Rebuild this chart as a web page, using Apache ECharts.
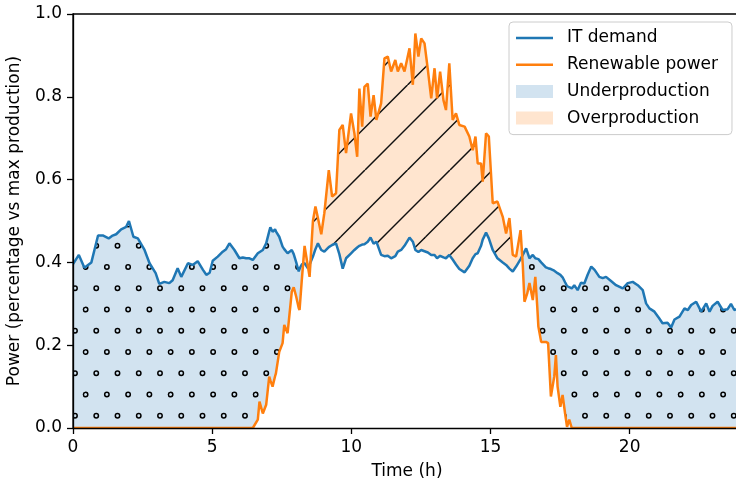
<!DOCTYPE html>
<html><head><meta charset="utf-8">
<script src="https://cdn.jsdelivr.net/npm/echarts@6/dist/echarts.min.js"></script>
<style>html,body{margin:0;padding:0;background:#fff}#c{width:736px;height:481px}</style>
</head><body><div id="c"></div>
<script>
// ---- data (hours of the day, fraction of max production) ----
const hours = [
  0, 0.21, 0.41, 0.66, 0.90, 1.07, 1.28, 1.40, 1.55, 1.73,
  1.91, 2.01, 2.17, 2.33, 2.57, 2.75, 2.97, 3.10, 3.28, 3.46,
  3.58, 3.76, 3.89, 4.13, 4.30, 4.48, 4.67, 4.79, 4.91, 5.02,
  5.20, 5.38, 5.50, 5.62, 5.80, 5.98, 6.10, 6.22, 6.34, 6.46,
  6.52, 6.64, 6.70, 6.82, 6.94, 7.05, 7.09, 7.17, 7.26, 7.29,
  7.41, 7.53, 7.59, 7.71, 7.86, 7.93, 8.02, 8.11, 8.14, 8.22,
  8.32, 8.44, 8.50, 8.62, 8.71, 8.80, 8.92, 9.03, 9.19, 9.31,
  9.45, 9.57, 9.69, 9.81, 9.99, 10.11, 10.21, 10.29, 10.39, 10.47,
  10.59, 10.69, 10.80, 10.90, 11.07, 11.19, 11.31, 11.43, 11.58, 11.67,
  11.79, 11.91, 12.09, 12.21, 12.30, 12.41, 12.51, 12.63, 12.75, 12.87,
  12.99, 13.08, 13.19, 13.31, 13.40, 13.52, 13.64, 13.76, 13.88, 14.07,
  14.24, 14.36, 14.46, 14.54, 14.66, 14.72, 14.84, 14.94, 15.08, 15.25,
  15.44, 15.56, 15.68, 15.80, 15.92, 16.08, 16.16, 16.22, 16.28, 16.32,
  16.40, 16.52, 16.61, 16.68, 16.72, 16.82, 16.99, 17.07, 17.17, 17.29,
  17.35, 17.41, 17.51, 17.59, 17.68, 17.75, 17.83, 17.92,
  18.01, 18.13, 18.25, 18.37, 18.49, 18.62, 18.74, 18.91, 19.03, 19.15,
  19.33, 19.51, 19.75, 19.93, 20.11, 20.29, 20.47, 20.59, 20.71, 20.89,
  21.06, 21.18, 21.36, 21.49, 21.61, 21.79, 21.97, 22.09, 22.21, 22.39,
  22.57, 22.75, 22.87, 22.98, 23.16, 23.34, 23.52, 23.64, 23.76, 24.00
];
const itDemand = [
  0.396, 0.418, 0.387, 0.400, 0.465, 0.465, 0.458, 0.464, 0.468, 0.480,
  0.486, 0.500, 0.462, 0.458, 0.430, 0.398, 0.374, 0.348, 0.353, 0.350,
  0.357, 0.386, 0.365, 0.398, 0.394, 0.403, 0.382, 0.370, 0.375, 0.404,
  0.414, 0.426, 0.432, 0.446, 0.430, 0.410, 0.412, 0.410, 0.410, 0.406,
  0.410, 0.422, 0.422, 0.430, 0.446, 0.475, 0.485, 0.474, 0.480, 0.475,
  0.462, 0.438, 0.432, 0.422, 0.430, 0.420, 0.400, 0.378, 0.385, 0.395,
  0.398, 0.386, 0.395, 0.414, 0.432, 0.446, 0.430, 0.426, 0.437, 0.442,
  0.446, 0.420, 0.385, 0.410, 0.422, 0.430, 0.436, 0.440, 0.443, 0.444,
  0.450, 0.460, 0.445, 0.450, 0.418, 0.415, 0.416, 0.410, 0.415, 0.426,
  0.430, 0.440, 0.460, 0.450, 0.430, 0.425, 0.430, 0.427, 0.424, 0.418,
  0.418, 0.410, 0.416, 0.412, 0.410, 0.418, 0.407, 0.395, 0.384, 0.376,
  0.392, 0.410, 0.420, 0.422, 0.440, 0.455, 0.472, 0.458, 0.430, 0.410,
  0.400, 0.394, 0.385, 0.378, 0.390, 0.408, 0.418, 0.426, 0.434, 0.426,
  0.410, 0.418, 0.410, 0.407, 0.408, 0.400, 0.388, 0.386, 0.384, 0.380,
  0.377, 0.374, 0.370, 0.364, 0.352, 0.343, 0.340, 0.337,
  0.345, 0.333, 0.351, 0.349, 0.370, 0.390, 0.382, 0.365, 0.362, 0.365,
  0.355, 0.345, 0.337, 0.350, 0.353, 0.345, 0.333, 0.301, 0.289, 0.281,
  0.265, 0.253, 0.254, 0.243, 0.262, 0.269, 0.289, 0.285, 0.297, 0.305,
  0.281, 0.301, 0.281, 0.295, 0.305, 0.285, 0.287, 0.300, 0.285, 0.290
];
const renewable = [
  0, 0, 0, 0, 0, 0, 0, 0, 0, 0,
  0, 0, 0, 0, 0, 0, 0, 0, 0, 0,
  0, 0, 0, 0, 0, 0, 0, 0, 0, 0,
  0, 0, 0, 0, 0, 0, 0, 0, 0, 0,
  0, 0.020, 0.064, 0.035, 0.056, 0.124, 0.115, 0.100, 0.125, 0.132,
  0.184, 0.205, 0.249, 0.229, 0.329, 0.340, 0.317, 0.290, 0.285, 0.357,
  0.440, 0.390, 0.365, 0.500, 0.535, 0.507, 0.468, 0.519, 0.623, 0.559,
  0.567, 0.720, 0.732, 0.664, 0.760, 0.712, 0.655, 0.820, 0.728, 0.824,
  0.832, 0.752, 0.804, 0.744, 0.784, 0.893, 0.897, 0.861, 0.889, 0.861,
  0.881, 0.861, 0.917, 0.829, 0.953, 0.897, 0.941, 0.929, 0.865, 0.796,
  0.869, 0.796, 0.861, 0.792, 0.768, 0.881, 0.744, 0.760, 0.732, 0.728,
  0.704, 0.671, 0.704, 0.639, 0.639, 0.595, 0.712, 0.704, 0.543, 0.547,
  0.510, 0.470, 0.507, 0.418, 0.414, 0.478, 0.394, 0.305, 0.317, 0.325,
  0.350, 0.309, 0.365, 0.293, 0.245, 0.208, 0.208, 0.205, 0.076, 0.124,
  0.176, 0.100, 0.051, 0.080, 0.035, 0.003, 0.020, 0,
  0, 0, 0, 0, 0, 0, 0, 0, 0, 0,
  0, 0, 0, 0, 0, 0, 0, 0, 0, 0,
  0, 0, 0, 0, 0, 0, 0, 0, 0, 0,
  0, 0, 0, 0, 0, 0, 0, 0, 0, 0
];
const seriesNames = ['IT demand', 'Renewable power', 'Underproduction', 'Overproduction'];
const xLabel = 'Time (h)';
const yLabel = 'Power (percentage vs max production)';

if (hours.length !== itDemand.length || hours.length !== renewable.length) {
  console.error('length mismatch', hours.length, itDemand.length, renewable.length);
}

// ---- styling ----
const FONT = 'DejaVu Sans';
const BLUE = '#1f77b4';
const ORANGE = '#ff7f0e';
const UNDER_BG = '#d2e3f0';
const OVER_BG = '#ffe5cf';

function dotPattern() {
  const S = 85, c = document.createElement('canvas');
  c.width = S; c.height = S;
  const g = c.getContext('2d');
  g.fillStyle = UNDER_BG; g.fillRect(0, 0, S, S);
  g.strokeStyle = '#000'; g.lineWidth = 1.5;
  const step = S / 4;
  for (let j = 0; j < 4; j++) {
    const y = 12.05 + j * step;
    const xo = (j % 2 === 1) ? 11.25 : 0.625;
    for (let i = -1; i <= 4; i++) {
      g.beginPath(); g.arc(xo + i * step, y, 2.2, 0, Math.PI * 2); g.stroke();
    }
  }
  return c;
}
function hatchPattern() {
  const S = 85, c = document.createElement('canvas');
  c.width = S; c.height = S;
  const g = c.getContext('2d');
  g.fillStyle = OVER_BG; g.fillRect(0, 0, S, S);
  g.strokeStyle = '#111'; g.lineWidth = 1.5;
  for (let k = -2; k <= 6; k++) {
    const cc = 25 + k * 42.5;
    g.beginPath(); g.moveTo(cc, 0); g.lineTo(cc - S, S); g.stroke();
  }
  return c;
}

const pts = arr => hours.map((h, i) => [h, arr[i]]);
const upper = hours.map((h, i) => [h, Math.max(itDemand[i], renewable[i])]);
const lower = hours.map((h, i) => [h, Math.min(itDemand[i], renewable[i])]);

const axisFont = {fontSize: 17, color: '#000', fontFamily: FONT};
const chart = echarts.init(document.getElementById('c'), null, {renderer: 'canvas'});
chart.setOption({
  animation: false,
  grid: {left: 73, top: 14, width: 668, height: 414, outerBoundsMode: 'none', containLabel: false,
         show: true, borderColor: '#000', borderWidth: 1.3, backgroundColor: 'transparent'},
  xAxis: {
    type: 'value', min: 0, max: 24, interval: 5, z: 10,
    axisLine: {lineStyle: {color: '#000', width: 1.3}},
    axisTick: {length: 6, lineStyle: {color: '#000', width: 1.3}},
    axisLabel: Object.assign({margin: 11, showMaxLabel: false}, axisFont),
    splitLine: {show: false},
    name: xLabel, nameLocation: 'middle', nameGap: 35, nameTextStyle: axisFont
  },
  yAxis: {
    type: 'value', min: 0, max: 1, interval: 0.2, z: 10,
    axisLine: {show: true, lineStyle: {color: '#000', width: 1.3}},
    axisTick: {show: true, length: 6, lineStyle: {color: '#000', width: 1.3}},
    axisLabel: Object.assign({margin: 11, formatter: v => v.toFixed(1)}, axisFont),
    splitLine: {show: false},
    name: yLabel, nameLocation: 'middle', nameGap: 50, nameRotate: 90, nameTextStyle: axisFont
  },
  legend: {
    orient: 'vertical', left: 509, top: 22, selectedMode: false,
    padding: [7.5, 14, 8, 7],
    itemWidth: 37, itemHeight: 13, itemGap: 9.7,
    backgroundColor: 'rgba(255,255,255,0.8)', borderColor: '#cccccc', borderWidth: 1, borderRadius: 4,
    textStyle: {fontSize: 17, color: '#000', fontFamily: FONT, lineHeight: 17, padding: [0, 0, 0, 9]},
    itemStyle: {borderWidth: 0},
    data: [
      {name: seriesNames[0], icon: 'path://M0,0H37V2.5H0Z', itemStyle: {color: BLUE}},
      {name: seriesNames[1], icon: 'path://M0,0H37V2.5H0Z', itemStyle: {color: ORANGE}},
      {name: seriesNames[2], icon: 'rect', itemStyle: {color: UNDER_BG}},
      {name: seriesNames[3], icon: 'rect', itemStyle: {color: OVER_BG}}
    ]
  },
  series: [
    {name: seriesNames[3], type: 'line', data: upper, symbol: 'none', silent: true, z: 1,
     itemStyle: {color: OVER_BG},
     lineStyle: {width: 0, opacity: 0},
     areaStyle: {color: {image: hatchPattern(), repeat: 'repeat'}, opacity: 1}},
    {name: seriesNames[2], type: 'line', data: pts(itDemand), symbol: 'none', silent: true, z: 2,
     itemStyle: {color: UNDER_BG},
     lineStyle: {width: 0, opacity: 0},
     areaStyle: {color: {image: dotPattern(), repeat: 'repeat'}, opacity: 1}},
    {name: 'mask', type: 'line', data: lower, symbol: 'none', silent: true, z: 3,
     lineStyle: {width: 0, opacity: 0},
     areaStyle: {color: '#ffffff', opacity: 1}},
    {name: seriesNames[0], type: 'line', data: pts(itDemand), symbol: 'none', silent: true, z: 4,
     itemStyle: {color: BLUE}, lineStyle: {color: BLUE, width: 2.5}},
    {name: seriesNames[1], type: 'line', data: pts(renewable), symbol: 'none', silent: true, z: 5,
     itemStyle: {color: ORANGE}, lineStyle: {color: ORANGE, width: 2.5}}
  ]
});
</script></body></html>
